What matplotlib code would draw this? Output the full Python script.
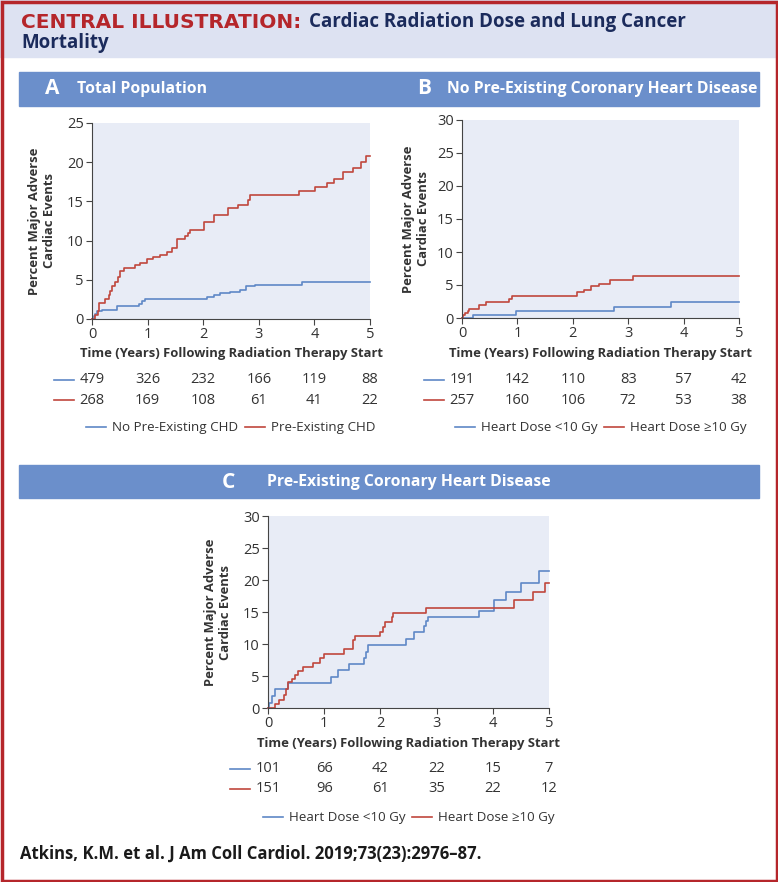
import matplotlib
matplotlib.use("Agg")
import matplotlib.pyplot as plt
import matplotlib.transforms as mtransforms
from matplotlib.patches import Rectangle
from matplotlib.lines import Line2D

plt.rcParams['font.family'] = ['Open Sans', 'DejaVu Sans']

# ---- data (cumulative % MACE, step curves) ----
years = [0, 1, 2, 3, 4, 5]

a_blue_t = [0, 0.03, 0.06, 0.09, 0.18, 0.45, 0.84, 0.9, 0.96, 2.07, 2.19, 2.3, 2.48, 2.66, 2.77, 2.93, 3.77, 5.0]
a_blue_v = [0, 0.4, 0.7, 1.0, 1.2, 1.6, 1.9, 2.3, 2.55, 2.8, 3.1, 3.3, 3.4, 3.7, 4.2, 4.4, 4.75, 4.75]
a_red_t = [0, 0.05, 0.1, 0.12, 0.24, 0.3, 0.33, 0.36, 0.42, 0.46, 0.51, 0.58, 0.77, 0.87, 0.99, 1.1, 1.22, 1.34, 1.44, 1.52, 1.68, 1.72, 1.77,
           2.02, 2.19, 2.44, 2.62, 2.8, 2.84, 3.72, 4.01, 4.22, 4.36, 4.52, 4.7, 4.84, 4.93, 5.0]
a_red_v = [0, 0.5, 1.0, 2.0, 2.5, 3.0, 3.6, 4.2, 4.7, 5.3, 6.1, 6.5, 6.9, 7.2, 7.6, 7.9, 8.2, 8.6, 9.1, 10.2, 10.6, 11.0, 11.3,
           12.4, 13.3, 14.1, 14.5, 15.2, 15.8, 16.3, 16.9, 17.4, 17.9, 18.7, 19.3, 20.0, 20.8, 20.8]
a_risk_blue = [479, 326, 232, 166, 119, 88]
a_risk_red = [268, 169, 108, 61, 41, 22]
a_labels = ["No Pre-Existing CHD", "Pre-Existing CHD"]

b_blue_t = [0, 0.2, 0.97, 2.75, 3.78, 5.0]
b_blue_v = [0, 0.5, 1.0, 1.6, 2.4, 2.4]
b_red_t = [0, 0.02, 0.05, 0.1, 0.13, 0.3, 0.43, 0.85, 0.9, 2.08, 2.2, 2.33, 2.47, 2.68, 3.08, 5.0]
b_red_v = [0, 0.5, 0.8, 1.0, 1.4, 1.9, 2.4, 2.9, 3.4, 3.9, 4.3, 4.8, 5.2, 5.8, 6.3, 6.3]
b_risk_blue = [191, 142, 110, 83, 57, 42]
b_risk_red = [257, 160, 106, 72, 53, 38]

c_blue_t = [0, 0.02, 0.08, 0.12, 0.35, 1.12, 1.25, 1.45, 1.7, 1.75, 1.78, 2.45, 2.6, 2.78, 2.82, 2.85, 3.75, 4.02, 4.23, 4.5, 4.83, 5.0]
c_blue_v = [0, 0.8, 1.9, 2.9, 3.9, 4.9, 5.9, 6.9, 7.8, 8.8, 9.9, 10.85, 11.9, 12.8, 13.6, 14.2, 15.2, 16.8, 18.15, 19.6, 21.4, 21.4]
c_red_t = [0, 0.12, 0.2, 0.28, 0.32, 0.35, 0.42, 0.48, 0.53, 0.62, 0.8, 0.92, 1.0, 1.35, 1.52, 1.55, 2.0, 2.05, 2.08, 2.2, 2.22,
           2.81, 4.37, 4.71, 4.93, 5.0]
c_red_v = [0, 0.6, 1.3, 2.0, 3.0, 4.0, 4.6, 5.2, 5.8, 6.4, 7.1, 7.8, 8.5, 9.2, 10.6, 11.2, 11.9, 12.6, 13.5, 14.2, 14.9,
           15.6, 16.8, 18.2, 19.6, 19.6]
c_risk_blue = [101, 66, 42, 22, 15, 7]
c_risk_red = [151, 96, 61, 35, 22, 12]
dose_labels = ["Heart Dose <10 Gy", "Heart Dose \u226510 Gy"]

BLUE = '#5f88c6'
RED = '#c0473d'
BAR = '#6b8fcb'
W, H = 778, 882

fig = plt.figure(figsize=(W / 100, H / 100), dpi=100)


def fx(x):
    return x / W


def fy(y):
    return 1 - y / H


# header band + frame
fig.patches.append(Rectangle((0, fy(57)), 1, 57 / H, transform=fig.transFigure, color='#dde2f2', zorder=0))
fig.patches.append(Rectangle((fx(1.5), fy(880.5)), fx(775), 879 / H, transform=fig.transFigure,
                             fill=False, edgecolor='#b5262b', lw=2.5, zorder=5))

t1 = fig.text(fx(21), fy(22), "CENTRAL ILLUSTRATION:", color='#b5262b', weight='bold', size=14.5,
              family='DejaVu Sans', va='center')
fig.canvas.draw()
bb = t1.get_window_extent()
fig.text(fx(bb.x1 + 8), fy(22), "Cardiac Radiation Dose and Lung Cancer", color='#1b2b5c', weight='bold',
         size=13.5, va='center')
fig.text(fx(21), fy(43), "Mortality", color='#1b2b5c', weight='bold', size=13.5, va='center')

# blue title bars
for top, bot in [(72, 106), (465, 498)]:
    fig.patches.append(Rectangle((fx(19), fy(bot)), fx(759 - 19), (bot - top) / H,
                                 transform=fig.transFigure, color=BAR, zorder=1))
fig.text(fx(52), fy(89), "A", color='white', weight='bold', size=15, ha='center', va='center')
fig.text(fx(77), fy(89), "Total Population", color='white', weight='bold', size=11.3, va='center')
fig.text(fx(424), fy(89), "B", color='white', weight='bold', size=15, ha='center', va='center')
fig.text(fx(447), fy(89), "No Pre-Existing Coronary Heart Disease", color='white', weight='bold', size=11.3,
         va='center')
fig.text(fx(228), fy(482), "C", color='white', weight='bold', size=15, ha='center', va='center')
fig.text(fx(267), fy(482), "Pre-Existing Coronary Heart Disease", color='white', weight='bold', size=11.3,
         va='center')


def km_panel(box, blue, red, ymax, risk_b, risk_r, labels, ylab_x, xlab_y, risk_y, leg_y):
    left, right, top, bottom = box
    ax = fig.add_axes([fx(left), fy(bottom), (right - left) / W, (bottom - top) / H])
    ax.set_facecolor('#e8ecf6')
    ax.step(blue[0], blue[1], where='post', color=BLUE, lw=1.2, clip_on=False)
    ax.step(red[0], red[1], where='post', color=RED, lw=1.2, clip_on=False)
    ax.set_xlim(0, 5)
    ax.set_ylim(0, ymax)
    ax.set_xticks(years)
    ax.set_yticks(range(0, ymax + 1, 5))
    for s in ['top', 'right']:
        ax.spines[s].set_visible(False)
    for s in ['left', 'bottom']:
        ax.spines[s].set_color('#444444')
        ax.spines[s].set_linewidth(0.8)
    ax.tick_params(direction='out', length=4, width=0.8, color='#444444', labelsize=10.5,
                   labelcolor='#333333', pad=2)
    ax.set_ylabel("Percent Major Adverse\nCardiac Events", weight='bold', size=9.4, color='#333333',
                  linespacing=1.2)
    ax.yaxis.set_label_coords(ylab_x, 0.5)
    ax.yaxis.label.set_va('center')
    ax.set_xlabel("Time (Years) Following Radiation Therapy Start", weight='bold', size=9.4, color='#333333')
    ax.xaxis.set_label_coords(0.5, xlab_y)
    ax.xaxis.label.set_va('center')

    # numbers at risk
    tr = mtransforms.blended_transform_factory(ax.transData, fig.transFigure)
    for row, col, yy in [(risk_b, BLUE, risk_y[0]), (risk_r, RED, risk_y[1])]:
        for x, n in zip(years, row):
            ax.text(x, fy(yy), str(n), transform=tr, ha='center', va='center', size=10.5, color='#333333')
        x0 = ax.transData.transform((0, 0))[0]
        fig.add_artist(Line2D([fx(x0 - 38), fx(x0 - 18)], [fy(yy), fy(yy)], color=col, lw=1.2,
                              transform=fig.transFigure))

    handles = [Line2D([], [], color=BLUE, lw=1.2), Line2D([], [], color=RED, lw=1.2)]
    cx = (left + right) / 2
    ax.legend(handles, labels, loc='center', bbox_to_anchor=(fx(cx), fy(leg_y)), bbox_transform=fig.transFigure,
              ncol=2, frameon=False, fontsize=9.6, handlelength=1.5, handletextpad=0.45, columnspacing=0.5,
              labelcolor='#333333')
    return ax


km_panel((92, 370, 123, 319), (a_blue_t, a_blue_v), (a_red_t, a_red_v), 25, a_risk_blue, a_risk_red,
         a_labels, -0.18, -0.175, (380, 400), 428)
km_panel((462, 739, 120, 318), (b_blue_t, b_blue_v), (b_red_t, b_red_v), 30, b_risk_blue, b_risk_red,
         dose_labels, -0.166, -0.177, (380, 400), 428)
km_panel((268, 549, 516, 708), (c_blue_t, c_blue_v), (c_red_t, c_red_v), 30, c_risk_blue, c_risk_red,
         dose_labels, -0.178, -0.1875, (769, 789), 818)

fig.text(fx(20), fy(854), "Atkins, K.M. et al. J Am Coll Cardiol. 2019;73(23):2976\u201387.", weight='bold',
         size=12, color='#1a1a1a', va='center')

fig.savefig("out.png", dpi=100)
